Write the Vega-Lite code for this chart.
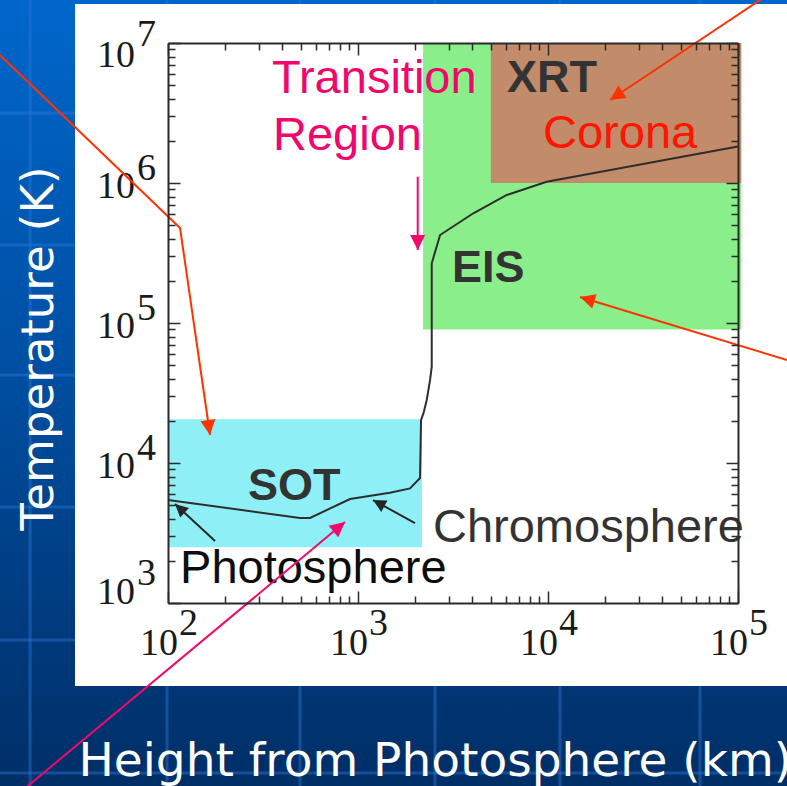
{
  "$schema": "https://vega.github.io/schema/vega-lite/v6.json",
  "width": 570,
  "height": 560,
  "autosize": {"type": "none"},
  "padding": {"left": 168, "top": 43, "right": 49, "bottom": 183},
  "background": "#003a7a",
  "config": {"view": {"stroke": null}},
  "datasets": {
    "bg": [{"h": 10, "h2": 300000, "T": 30, "T2": 30000000}],
    "panel": [{"h": 32.4, "h2": 300000, "T": 255, "T2": 19000000}],
    "streaks": [
      {"h": 10, "h2": 300000, "T": 3162000, "T2": 3162000},
      {"h": 10, "h2": 300000, "T": 360700, "T2": 360700},
      {"h": 10, "h2": 300000, "T": 42530, "T2": 42530},
      {"h": 10, "h2": 300000, "T": 4850, "T2": 4850},
      {"h": 10, "h2": 300000, "T": 544, "T2": 544},
      {"h": 10, "h2": 300000, "T": 61.05, "T2": 61.05},
      {"h": 18.8, "h2": 18.8, "T": 30, "T2": 30000000},
      {"h": 98.8, "h2": 98.8, "T": 30, "T2": 30000000},
      {"h": 495.1, "h2": 495.1, "T": 30, "T2": 30000000},
      {"h": 2543, "h2": 2543, "T": 30, "T2": 30000000},
      {"h": 11565, "h2": 11565, "T": 30, "T2": 30000000},
      {"h": 63096, "h2": 63096, "T": 30, "T2": 30000000}
    ],
    "bands": [
      {"name": "SOT", "h": 100, "h2": 2170, "T": 2500, "T2": 20500},
      {"name": "EIS", "h": 2200, "h2": 104000, "T": 90000, "T2": 10000000},
      {"name": "XRT", "h": 5000, "h2": 104000, "T": 1000000, "T2": 10000000}
    ],
    "profile": [
      {"h": 100, "T": 5450},
      {"h": 495, "T": 4050},
      {"h": 559, "T": 4050},
      {"h": 908, "T": 5530},
      {"h": 1472, "T": 6140},
      {"h": 1879, "T": 6590},
      {"h": 2120, "T": 7810},
      {"h": 2147, "T": 20300},
      {"h": 2210, "T": 22600},
      {"h": 2300, "T": 28200},
      {"h": 2395, "T": 39200},
      {"h": 2444, "T": 48700},
      {"h": 2444, "T": 146000},
      {"h": 2444, "T": 267000},
      {"h": 2704, "T": 425000},
      {"h": 4046, "T": 608000},
      {"h": 6070, "T": 821000},
      {"h": 9840, "T": 1020000},
      {"h": 100000, "T": 1820000}
    ],
    "shafts": [
      {"id": "r1", "h": 13.05, "T": 8208000},
      {"id": "r1", "h": 115.7, "T": 477100},
      {"id": "r1", "h": 166.4, "T": 15849},
      {"id": "r2", "h": 156500, "T": 23900000},
      {"id": "r2", "h": 21204, "T": 3915000},
      {"id": "r3", "h": 212000, "T": 50950},
      {"id": "r3", "h": 14738, "T": 153300},
      {"id": "p1", "h": 2062, "T": 1110000},
      {"id": "p1", "h": 2062, "T": 332200},
      {"id": "p2", "h": 14.92, "T": 39.16},
      {"id": "p2", "h": 854.2, "T": 3789},
      {"id": "k1", "h": 176.8, "T": 2773},
      {"id": "k1", "h": 108.9, "T": 5095},
      {"id": "k2", "h": 1995, "T": 3727},
      {"id": "k2", "h": 1199, "T": 5441}
    ],
    "tips": [
      {"id": "r1", "h": 166.4, "T": 15849},
      {"id": "r2", "h": 21204, "T": 3915000},
      {"id": "r3", "h": 14738, "T": 153300},
      {"id": "p1", "h": 2062, "T": 332200},
      {"id": "p2", "h": 854.2, "T": 3789},
      {"id": "k1", "h": 108.9, "T": 5095},
      {"id": "k2", "h": 1199, "T": 5441}
    ],
    "notes": [
      {"label": "Transition", "kind": "tr", "h": 352.7, "T": 4394000},
      {"label": "Region", "kind": "tr", "h": 356.9, "T": 1721000},
      {"label": "Corona", "kind": "co", "h": 9413, "T": 1778000},
      {"label": "Chromosphere", "kind": "ch", "h": 2481, "T": 2728},
      {"label": "Photosphere", "kind": "ph", "h": 115.7, "T": 1389}
    ],
    "instruments": [
      {"label": "XRT", "h": 6084, "T": 4467000},
      {"label": "EIS", "h": 3124, "T": 196300},
      {"label": "SOT", "h": 263.7, "T": 5441}
    ],
    "xticks": [
      {"h": 100, "T": 1000, "e": "2"},
      {"h": 1000, "T": 1000, "e": "3"},
      {"h": 10000, "T": 1000, "e": "4"},
      {"h": 100000, "T": 1000, "e": "5"}
    ],
    "yticks": [
      {"h": 100, "T": 1000, "e": "3"},
      {"h": 100, "T": 10000, "e": "4"},
      {"h": 100, "T": 100000, "e": "5"},
      {"h": 100, "T": 1000000, "e": "6"},
      {"h": 100, "T": 10000000, "e": "7"}
    ]
  },
  "encoding": {
    "x": {"field": "h", "type": "quantitative", "scale": {"type": "log", "domain": [100, 100000], "nice": false, "zero": false}, "axis": null},
    "y": {"field": "T", "type": "quantitative", "scale": {"type": "log", "domain": [1000, 10000000], "nice": false, "zero": false}, "axis": null}
  },
  "layer": [
    {
      "data": {"name": "bg"},
      "mark": {"type": "rect", "color": {"gradient": "linear", "x1": 0, "y1": 0, "x2": 0, "y2": 1, "stops": [{"offset": 0, "color": "#0068CE"}, {"offset": 0.45, "color": "#0050A4"}, {"offset": 1, "color": "#002C62"}]}},
      "encoding": {"x2": {"field": "h2"}, "y2": {"field": "T2"}}
    },
    {
      "data": {"name": "streaks"},
      "mark": {"type": "rule", "color": "#2A78D8", "opacity": 0.45, "strokeWidth": 3},
      "encoding": {"x2": {"field": "h2"}, "y2": {"field": "T2"}}
    },
    {
      "data": {"name": "panel"},
      "mark": {"type": "rect", "color": "#ffffff"},
      "encoding": {"x2": {"field": "h2"}, "y2": {"field": "T2"}}
    },
    {
      "data": {"name": "bands"},
      "mark": {"type": "rect", "opacity": 1},
      "encoding": {
        "x": {"field": "h", "type": "quantitative", "scale": {"type": "log", "domain": [100, 100000], "nice": false, "zero": false},
          "axis": {"orient": "top", "values": [100,200,300,400,500,600,700,800,900,1000,2000,3000,4000,5000,6000,7000,8000,9000,10000,20000,30000,40000,50000,60000,70000,80000,90000,100000],
            "labels": false, "grid": false, "title": null, "zindex": 1,
            "domainColor": "#2b2b2b", "domainWidth": 2, "tickColor": "#2b2b2b", "tickWidth": 1.5,
            "tickSize": {"condition": {"test": "abs(log(datum.value)/LN10 - round(log(datum.value)/LN10)) < 0.01", "value": -12}, "value": -7}}},
        "y": {"field": "T", "type": "quantitative", "scale": {"type": "log", "domain": [1000, 10000000], "nice": false, "zero": false},
          "axis": {"orient": "right", "values": [1000,2000,3000,4000,5000,6000,7000,8000,9000,10000,20000,30000,40000,50000,60000,70000,80000,90000,100000,200000,300000,400000,500000,600000,700000,800000,900000,1000000,2000000,3000000,4000000,5000000,6000000,7000000,8000000,9000000,10000000],
            "labels": false, "grid": false, "title": null, "zindex": 1,
            "domainColor": "#2b2b2b", "domainWidth": 2, "tickColor": "#2b2b2b", "tickWidth": 1.5,
            "tickSize": {"condition": {"test": "abs(log(datum.value)/LN10 - round(log(datum.value)/LN10)) < 0.01", "value": -12}, "value": -7}}},
        "x2": {"field": "h2"},
        "y2": {"field": "T2"},
        "color": {"field": "name", "type": "nominal", "scale": {"domain": ["SOT", "EIS", "XRT"], "range": ["#8EF0F6", "#8AEE8A", "#C28C6A"]}, "legend": null}
      }
    },
    {
      "data": {"name": "profile"},
      "mark": {"type": "line", "color": "#2e2e2e", "strokeWidth": 2},
      "encoding": {
        "x": {"field": "h", "type": "quantitative", "scale": {"type": "log", "domain": [100, 100000], "nice": false, "zero": false},
          "axis": {"orient": "bottom", "values": [100,200,300,400,500,600,700,800,900,1000,2000,3000,4000,5000,6000,7000,8000,9000,10000,20000,30000,40000,50000,60000,70000,80000,90000,100000],
            "labels": false, "grid": false, "zindex": 1,
            "domainColor": "#2b2b2b", "domainWidth": 2, "tickColor": "#2b2b2b", "tickWidth": 1.5,
            "tickSize": {"condition": {"test": "abs(log(datum.value)/LN10 - round(log(datum.value)/LN10)) < 0.01", "value": -12}, "value": -7},
            "title": "Height from Photosphere (km)", "titleFont": "DejaVu Sans", "titleFontSize": 47, "titleFontWeight": "normal", "titleColor": "#ffffff",
            "titleX": -90, "titleY": 172, "titleAlign": "left", "titleBaseline": "alphabetic", "titleLimit": 3000}},
        "y": {"field": "T", "type": "quantitative", "scale": {"type": "log", "domain": [1000, 10000000], "nice": false, "zero": false},
          "axis": {"orient": "left", "values": [1000,2000,3000,4000,5000,6000,7000,8000,9000,10000,20000,30000,40000,50000,60000,70000,80000,90000,100000,200000,300000,400000,500000,600000,700000,800000,900000,1000000,2000000,3000000,4000000,5000000,6000000,7000000,8000000,9000000,10000000],
            "labels": false, "grid": false, "zindex": 1,
            "domainColor": "#2b2b2b", "domainWidth": 2, "tickColor": "#2b2b2b", "tickWidth": 1.5,
            "tickSize": {"condition": {"test": "abs(log(datum.value)/LN10 - round(log(datum.value)/LN10)) < 0.01", "value": -12}, "value": -7},
            "title": "Temperature (K)", "titleFont": "DejaVu Sans", "titleFontSize": 45, "titleFontWeight": "normal", "titleColor": "#ffffff",
            "titleAngle": 270, "titleX": -116, "titleY": 305, "titleAlign": "center", "titleBaseline": "alphabetic", "titleLimit": 3000}},
        "order": {"value": null}
      }
    },
    {
      "data": {"name": "notes"},
      "mark": {"type": "text", "font": "Liberation Sans", "fontSize": 47, "align": "left", "baseline": "alphabetic"},
      "encoding": {
        "text": {"field": "label"},
        "color": {"field": "kind", "type": "nominal", "scale": {"domain": ["tr", "co", "ch", "ph"], "range": ["#F2066C", "#FF1500", "#333333", "#0d0d0d"]}, "legend": null}
      }
    },
    {
      "data": {"name": "instruments"},
      "mark": {"type": "text", "font": "Liberation Sans", "fontSize": 45, "fontWeight": "bold", "align": "left", "baseline": "alphabetic", "color": "#333333"},
      "encoding": {"text": {"field": "label"}}
    },
    {
      "data": {"name": "xticks"},
      "mark": {"type": "text", "font": "Liberation Serif", "fontSize": 38, "color": "#1a1a1a", "align": "right", "baseline": "alphabetic", "dx": 10, "dy": 52},
      "encoding": {"text": {"value": "10"}}
    },
    {
      "data": {"name": "xticks"},
      "mark": {"type": "text", "font": "Liberation Serif", "fontSize": 38, "color": "#1a1a1a", "align": "left", "baseline": "alphabetic", "dx": 11, "dy": 32},
      "encoding": {"text": {"field": "e"}}
    },
    {
      "data": {"name": "yticks"},
      "transform": [{"filter": "datum.T > 1500 && datum.T < 5000000"}],
      "mark": {"type": "text", "font": "Liberation Serif", "fontSize": 38, "color": "#1a1a1a", "align": "right", "baseline": "alphabetic", "dx": -33, "dy": 15},
      "encoding": {"text": {"value": "10"}}
    },
    {
      "data": {"name": "yticks"},
      "transform": [{"filter": "datum.T > 1500 && datum.T < 5000000"}],
      "mark": {"type": "text", "font": "Liberation Serif", "fontSize": 38, "color": "#1a1a1a", "align": "left", "baseline": "alphabetic", "dx": -31, "dy": -3},
      "encoding": {"text": {"field": "e"}}
    },
    {
      "data": {"name": "yticks"},
      "transform": [{"filter": "datum.T > 5000000"}],
      "mark": {"type": "text", "font": "Liberation Serif", "fontSize": 38, "color": "#1a1a1a", "align": "right", "baseline": "alphabetic", "dx": -33, "dy": 24},
      "encoding": {"text": {"value": "10"}}
    },
    {
      "data": {"name": "yticks"},
      "transform": [{"filter": "datum.T > 5000000"}],
      "mark": {"type": "text", "font": "Liberation Serif", "fontSize": 38, "color": "#1a1a1a", "align": "left", "baseline": "alphabetic", "dx": -31, "dy": 3},
      "encoding": {"text": {"field": "e"}}
    },
    {
      "data": {"name": "yticks"},
      "transform": [{"filter": "datum.T < 1500"}],
      "mark": {"type": "text", "font": "Liberation Serif", "fontSize": 38, "color": "#1a1a1a", "align": "right", "baseline": "alphabetic", "dx": -33, "dy": 1},
      "encoding": {"text": {"value": "10"}}
    },
    {
      "data": {"name": "yticks"},
      "transform": [{"filter": "datum.T < 1500"}],
      "mark": {"type": "text", "font": "Liberation Serif", "fontSize": 38, "color": "#1a1a1a", "align": "left", "baseline": "alphabetic", "dx": -31, "dy": -18},
      "encoding": {"text": {"field": "e"}}
    },
    {
      "data": {"name": "shafts"},
      "transform": [{"filter": "datum.id[0] === 'r'"}],
      "mark": {"type": "line", "color": "#FF3300", "strokeWidth": 2},
      "encoding": {"detail": {"field": "id"}, "order": {"value": null}}
    },
    {
      "data": {"name": "shafts"},
      "transform": [{"filter": "datum.id[0] === 'p'"}],
      "mark": {"type": "line", "color": "#F20A6A", "strokeWidth": 2},
      "encoding": {"detail": {"field": "id"}, "order": {"value": null}}
    },
    {
      "data": {"name": "shafts"},
      "transform": [{"filter": "datum.id[0] === 'k'"}],
      "mark": {"type": "line", "color": "#262626", "strokeWidth": 2},
      "encoding": {"detail": {"field": "id"}, "order": {"value": null}}
    },
    {
      "data": {"name": "tips"},
      "transform": [{"filter": "datum.id === 'r1'"}],
      "mark": {"type": "point", "shape": "M0,0L-0.5,1L0.5,1Z", "filled": true, "opacity": 1, "strokeWidth": 0, "size": 900, "angle": 171.8, "color": "#FF3300"},
      "encoding": {}
    },
    {
      "data": {"name": "tips"},
      "transform": [{"filter": "datum.id === 'r2'"}],
      "mark": {"type": "point", "shape": "M0,0L-0.5,1L0.5,1Z", "filled": true, "opacity": 1, "strokeWidth": 0, "size": 900, "angle": -123.7, "color": "#FF3300"},
      "encoding": {}
    },
    {
      "data": {"name": "tips"},
      "transform": [{"filter": "datum.id === 'r3'"}],
      "mark": {"type": "point", "shape": "M0,0L-0.5,1L0.5,1Z", "filled": true, "opacity": 1, "strokeWidth": 0, "size": 900, "angle": -73.1, "color": "#FF3300"},
      "encoding": {}
    },
    {
      "data": {"name": "tips"},
      "transform": [{"filter": "datum.id === 'p1'"}],
      "mark": {"type": "point", "shape": "M0,0L-0.5,1L0.5,1Z", "filled": true, "opacity": 1, "strokeWidth": 0, "size": 900, "angle": 180, "color": "#F20A6A"},
      "encoding": {}
    },
    {
      "data": {"name": "tips"},
      "transform": [{"filter": "datum.id === 'p2'"}],
      "mark": {"type": "point", "shape": "M0,0L-0.5,1L0.5,1Z", "filled": true, "opacity": 1, "strokeWidth": 0, "size": 900, "angle": 50.2, "color": "#F20A6A"},
      "encoding": {}
    },
    {
      "data": {"name": "tips"},
      "transform": [{"filter": "datum.id === 'k1'"}],
      "mark": {"type": "point", "shape": "M0,0L-0.5,1L0.5,1Z", "filled": true, "opacity": 1, "strokeWidth": 0, "size": 676, "angle": -47.2, "color": "#262626"},
      "encoding": {}
    },
    {
      "data": {"name": "tips"},
      "transform": [{"filter": "datum.id === 'k2'"}],
      "mark": {"type": "point", "shape": "M0,0L-0.5,1L0.5,1Z", "filled": true, "opacity": 1, "strokeWidth": 0, "size": 676, "angle": -61.3, "color": "#262626"},
      "encoding": {}
    }
  ],
  "resolve": {"scale": {"color": "independent"}, "axis": {"x": "independent", "y": "independent"}}
}
